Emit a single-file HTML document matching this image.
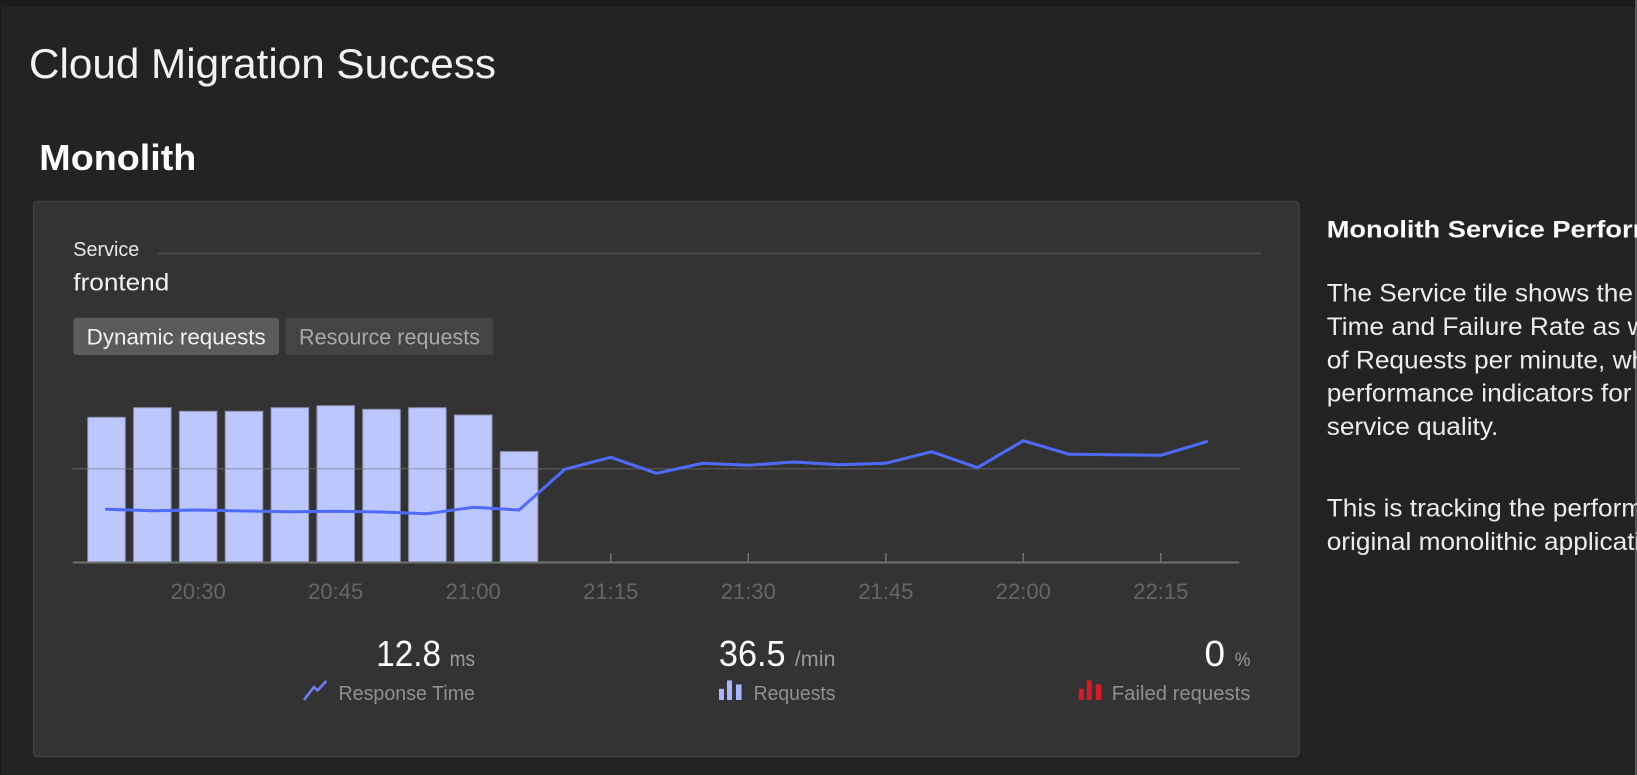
<!DOCTYPE html>
<html>
<head>
<meta charset="utf-8">
<style>
  html, body { margin: 0; padding: 0; background: #232323; }
  body { width: 1637px; height: 775px; overflow: hidden; }
  svg { display: block; font-family: "Liberation Sans", sans-serif; }
</style>
</head>
<body>
<svg width="1637" height="775" viewBox="0 0 1637 775" xmlns="http://www.w3.org/2000/svg">
  <defs>
    <clipPath id="rclip"><rect x="1300" y="190" width="1335" height="400"/></clipPath>
  </defs>
  <!-- page background & frame -->
  <rect x="0" y="0" width="1637" height="775" fill="#232323"/>
  <rect x="0" y="0" width="1637" height="7" fill="#1b1b1b"/>
  <rect x="0" y="0" width="1.5" height="775" fill="#1a1a1a"/>
  <rect x="1635" y="0" width="2" height="775" fill="#5a5a5a"/>

  <!-- Headings -->
  <text x="29" y="78" font-size="42" fill="#f2f2f2" textLength="467" lengthAdjust="spacingAndGlyphs">Cloud Migration Success</text>
  <text x="39.3" y="170" font-size="36" font-weight="bold" fill="#ffffff" textLength="157" lengthAdjust="spacingAndGlyphs">Monolith</text>

  <!-- Tile -->
  <rect x="33.5" y="201.5" width="1265.5" height="555" rx="4" ry="4" fill="#333333" stroke="#404040" stroke-width="1.5"/>

  <text x="73.3" y="256" font-size="20" fill="#e8e8e8" textLength="66" lengthAdjust="spacingAndGlyphs">Service</text>
  <line x1="158" y1="253.5" x2="1261" y2="253.5" stroke="#4a4a4a" stroke-width="2"/>
  <text x="73.3" y="290.7" font-size="24" fill="#f2f2f2" textLength="96" lengthAdjust="spacingAndGlyphs">frontend</text>

  <rect x="73.3" y="317.7" width="205.7" height="37.3" rx="3" fill="#5b5b5b"/>
  <text x="86.7" y="344.3" font-size="22" fill="#f0f0f0" textLength="179" lengthAdjust="spacingAndGlyphs">Dynamic requests</text>
  <rect x="285.7" y="317.7" width="208" height="37.3" rx="3" fill="#444444"/>
  <text x="299" y="344.3" font-size="22" fill="#a9a9a9" textLength="181" lengthAdjust="spacingAndGlyphs">Resource requests</text>

  <!-- Chart: ticks -->
  <g stroke="#707070" stroke-width="1.5">
    <line x1="198.2" y1="553" x2="198.2" y2="562"/>
    <line x1="335.7" y1="553" x2="335.7" y2="562"/>
    <line x1="473.2" y1="553" x2="473.2" y2="562"/>
    <line x1="610.7" y1="553" x2="610.7" y2="562"/>
    <line x1="748.3" y1="553" x2="748.3" y2="562"/>
    <line x1="885.8" y1="553" x2="885.8" y2="562"/>
    <line x1="1023.3" y1="553" x2="1023.3" y2="562"/>
    <line x1="1160.8" y1="553" x2="1160.8" y2="562"/>
  </g>

  <!-- Bars -->
  <g fill="#bcc6ff" stroke="#8a8fa8" stroke-width="1">
    <rect x="87.7" y="417.3" width="37.6" height="145"/>
    <rect x="133.54" y="407.7" width="37.6" height="154.6"/>
    <rect x="179.38" y="411.3" width="37.6" height="151"/>
    <rect x="225.22" y="411.3" width="37.6" height="151"/>
    <rect x="271.06" y="407.7" width="37.6" height="154.6"/>
    <rect x="316.9" y="405.7" width="37.6" height="156.6"/>
    <rect x="362.74" y="409.3" width="37.6" height="153"/>
    <rect x="408.58" y="407.7" width="37.6" height="154.6"/>
    <rect x="454.42" y="415" width="37.6" height="147.3"/>
    <rect x="500.26" y="451.5" width="37.6" height="110.8"/>
  </g>

  <!-- Gridline & axis -->
  <line x1="72.7" y1="468.7" x2="1239.4" y2="468.7" stroke="rgba(120,120,120,0.45)" stroke-width="1.5"/>
  <line x1="72.7" y1="562.5" x2="1239.4" y2="562.5" stroke="#707070" stroke-width="2"/>

  <!-- Response time line -->
  <polyline fill="none" stroke="#4f6bff" stroke-width="3" stroke-linejoin="round" stroke-linecap="round"
    points="106.5,509.3 152.34,510.7 198.18,510 244.02,511 289.86,511.7 335.7,511.3 381.54,512 427.38,513.7 473.22,507.3 519.06,510 564.9,469.3 610.74,457.3 656.58,473.3 702.42,463.3 748.26,465.3 794.1,462 839.94,464.7 885.78,463.3 931.62,451.7 977.46,467.7 1023.3,440.7 1069.14,454.3 1114.98,454.7 1160.82,455.3 1206.66,441.7"/>

  <!-- Tick labels -->
  <g font-size="22" fill="#666666" text-anchor="middle">
    <text x="198.2" y="599">20:30</text>
    <text x="335.7" y="599">20:45</text>
    <text x="473.2" y="599">21:00</text>
    <text x="610.7" y="599">21:15</text>
    <text x="748.3" y="599">21:30</text>
    <text x="885.8" y="599">21:45</text>
    <text x="1023.3" y="599">22:00</text>
    <text x="1160.8" y="599">22:15</text>
  </g>

  <!-- Stats -->
  <text x="376.3" y="666" font-size="36" fill="#ffffff" textLength="64.7" lengthAdjust="spacingAndGlyphs">12.8</text>
  <text x="449.6" y="666" font-size="21" fill="#999999" textLength="25.4" lengthAdjust="spacingAndGlyphs">ms</text>
  <polyline points="304,699.9 314,687 317.5,690.5 326.3,681" fill="none" stroke="#6f7dff" stroke-width="2.5" stroke-linejoin="round"/>
  <text x="338.5" y="700" font-size="20" fill="#8f8f8f" textLength="136.5" lengthAdjust="spacingAndGlyphs">Response Time</text>

  <text x="718.9" y="666" font-size="36" fill="#ffffff" textLength="66.7" lengthAdjust="spacingAndGlyphs">36.5</text>
  <text x="794.8" y="666" font-size="21" fill="#999999" textLength="40.7" lengthAdjust="spacingAndGlyphs">/min</text>
  <g fill="#a8b5ff">
    <rect x="719" y="688.8" width="5" height="11.2"/>
    <rect x="727" y="680.4" width="5" height="19.6"/>
    <rect x="736" y="684.4" width="5.5" height="15.6"/>
  </g>
  <text x="753.6" y="700" font-size="20" fill="#8f8f8f" textLength="81.9" lengthAdjust="spacingAndGlyphs">Requests</text>

  <text x="1204.5" y="666" font-size="36" fill="#ffffff" textLength="20.5" lengthAdjust="spacingAndGlyphs">0</text>
  <text x="1234.7" y="666" font-size="19" fill="#999999" textLength="15.7" lengthAdjust="spacingAndGlyphs">%</text>
  <g fill="#dc172a">
    <rect x="1078.8" y="688.8" width="5" height="11.2"/>
    <rect x="1086.8" y="680.4" width="5" height="19.6"/>
    <rect x="1095.8" y="684.4" width="5.5" height="15.6"/>
  </g>
  <text x="1111.8" y="700" font-size="20" fill="#8f8f8f" textLength="138.6" lengthAdjust="spacingAndGlyphs">Failed requests</text>

  <!-- Right description -->
  <g clip-path="url(#rclip)">
    <g transform="translate(1326.7,237.5) scale(1.136,1)">
      <text x="0" y="0" font-size="24" font-weight="bold" fill="#ffffff">Monolith Service Performance</text>
    </g>
    <g transform="translate(1326.7,0) scale(1.05,1)" font-size="25" fill="#ececec">
      <text x="0" y="301.5">The Service tile shows the Response</text>
      <text x="0" y="334.9">Time and Failure Rate as well as the number</text>
      <text x="0" y="368.3">of Requests per minute, which are key</text>
      <text x="0" y="401.7">performance indicators for</text>
      <text x="0" y="435.1">service quality.</text>
      <text x="0" y="516.5">This is tracking the performance of the</text>
      <text x="0" y="549.9">original monolithic application.</text>
    </g>
  </g>
</svg>
</body>
</html>
